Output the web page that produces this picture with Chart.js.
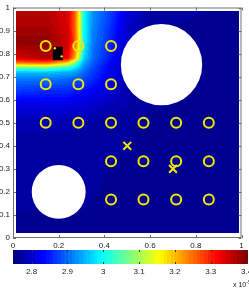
<!DOCTYPE html>
<html>
<head>
<meta charset="utf-8">
<script src="https://cdn.jsdelivr.net/npm/chart.js@4.4.1/dist/chart.umd.min.js"></script>
<style>
  body { margin: 0; background: #fff; width: 249px; height: 292px; position: relative; overflow: hidden; }
  canvas { position: absolute; left: 0; }
  #main { top: 0; }
  #cbar { top: 250px; }
  #expo { position: absolute; left: 233px; top: 281px; font: 7px 'Liberation Sans', Arial, sans-serif; color: #222; white-space: nowrap; line-height: 8px; }
  #expo sup { font-size: 5px; vertical-align: 3px; line-height: 0; }
</style>
</head>
<body>
<canvas id="main" width="249" height="250"></canvas>
<canvas id="cbar" width="249" height="30"></canvas>
<div id="expo">x 10<sup>-5</sup></div>
<script>
// Axes
const xTicks = [0, 0.2, 0.4, 0.6, 0.8, 1];
const yTicks = [0, 0.1, 0.2, 0.3, 0.4, 0.5, 0.6, 0.7, 0.8, 0.9, 1];

// Colour scale (values x 1e-5)
const colorMin = 2.748;
const colorMax = 3.404;
const colorTicks = [2.8, 2.9, 3, 3.1, 3.2, 3.3, 3.4];

// Sensor rings
const sensorX = [0.143, 0.286, 0.429, 0.143, 0.286, 0.429,
    0.143, 0.286, 0.429, 0.571, 0.714, 0.857,
    0.429, 0.571, 0.714, 0.857, 0.429, 0.571, 0.714, 0.857];
const sensorY = [0.833, 0.833, 0.833, 0.667, 0.667, 0.667,
    0.5, 0.5, 0.5, 0.5, 0.5, 0.5,
    0.333, 0.333, 0.333, 0.333, 0.167, 0.167, 0.167, 0.167];

// Estimates (x marks)
const crossX = [0.5, 0.7];
const crossY = [0.4, 0.3];

// Source blob
const sourceX = [0.196, 0.196];
const sourceY = [0.808, 0.793];
const spotX = [0.183, 0.213];
const spotY = [0.823, 0.788];

// Obstacles
const holeX = [0.65, 0.2];
const holeY = [0.752, 0.2];
const holeR = [0.178, 0.118];

// Field samples, rows go from y = 1 down to y = 0
const fieldX = [0, 0.15, 0.24, 0.27, 0.29, 0.31, 0.35, 0.42, 0.5, 0.6, 1];
const fieldY = [1, 0.93, 0.85, 0.78, 0.76, 0.74, 0.72, 0.69, 0.64, 0.58, 0.5, 0];
const fieldRows = [
    [3.36, 3.36, 3.34, 3.27, 3.16, 3.00, 2.93, 2.88, 2.82, 2.775, 2.765],
    [3.37, 3.37, 3.34, 3.26, 3.15, 3.00, 2.92, 2.87, 2.80, 2.77, 2.765],
    [3.39, 3.39, 3.35, 3.27, 3.16, 3.00, 2.91, 2.86, 2.80, 2.77, 2.765],
    [3.34, 3.37, 3.32, 3.22, 3.10, 2.97, 2.90, 2.85, 2.79, 2.77, 2.765],
    [3.25, 3.26, 3.18, 3.08, 3.00, 2.94, 2.89, 2.84, 2.79, 2.77, 2.765],
    [3.07, 3.08, 3.03, 2.99, 2.96, 2.92, 2.88, 2.83, 2.79, 2.77, 2.765],
    [2.96, 2.96, 2.95, 2.94, 2.92, 2.90, 2.87, 2.83, 2.79, 2.77, 2.765],
    [2.91, 2.91, 2.90, 2.89, 2.89, 2.88, 2.86, 2.82, 2.78, 2.77, 2.765],
    [2.87, 2.86, 2.86, 2.85, 2.85, 2.84, 2.83, 2.81, 2.78, 2.77, 2.765],
    [2.82, 2.82, 2.82, 2.81, 2.81, 2.81, 2.80, 2.79, 2.78, 2.77, 2.765],
    [2.78, 2.78, 2.78, 2.78, 2.78, 2.78, 2.775, 2.77, 2.77, 2.765, 2.765],
    [2.765, 2.765, 2.765, 2.765, 2.765, 2.765, 2.765, 2.765, 2.765, 2.765, 2.765]
];

const yellow = '#f5e800';

Chart.defaults.font.family = "'Liberation Sans', Arial, sans-serif";
Chart.defaults.font.size = 8;
Chart.defaults.color = '#222';

const fmtTick = v => String(Math.round(v * 10) / 10);
const pts = (xs, ys) => xs.map((v, i) => ({ x: v, y: ys[i] }));

// Colour map

/**
 * MATLAB style jet colour for t in [0, 1]
 */
function jet(t) {
    const c = k => Math.round(255 * Math.min(1, Math.max(0, 1.5 - Math.abs(4 * t - k))));
    return [c(3), c(2), c(1)];
}

function jetLevel(v) {
    const t = (v - colorMin) / (colorMax - colorMin);
    const idx = Math.min(63, Math.max(0, Math.floor(t * 64)));
    return jet(idx / 63);
}

function findCell(nodes, v) {
    for (let i = 0; i < nodes.length - 1; i++) {
        const a = nodes[i], b = nodes[i + 1];
        if ((v - a) * (v - b) <= 0) return [i, (v - a) / (b - a)];
    }
    return [nodes.length - 2, 1];
}

function sampleField(xv, yv) {
    const [i, fx] = findCell(fieldX, Math.min(1, Math.max(0, xv)));
    const [j, fy] = findCell(fieldY, Math.min(1, Math.max(0, yv)));
    const r0 = fieldRows[j], r1 = fieldRows[j + 1];
    const top = r0[i] + (r0[i + 1] - r0[i]) * fx;
    const bot = r1[i] + (r1[i + 1] - r1[i]) * fx;
    return top + (bot - top) * fy;
}

// Plugins

const fieldPlugin = {
    id: 'field',
    beforeDatasetsDraw(chart) {
        const { ctx, scales: { x, y } } = chart;
        const left = Math.round(x.getPixelForValue(0.013));
        const right = Math.round(x.getPixelForValue(0.987));
        const top = Math.round(y.getPixelForValue(0.985));
        const bottom = Math.round(y.getPixelForValue(0.02));
        const w = right - left, h = bottom - top;
        const img = ctx.createImageData(w, h);
        for (let j = 0; j < h; j++) {
            const yv = y.getValueForPixel(top + j + 0.5);
            for (let i = 0; i < w; i++) {
                const xv = x.getValueForPixel(left + i + 0.5);
                const [r, g, b] = jetLevel(sampleField(xv, yv));
                const k = (j * w + i) * 4;
                img.data[k] = r;
                img.data[k + 1] = g;
                img.data[k + 2] = b;
                img.data[k + 3] = 255;
            }
        }
        ctx.putImageData(img, left, top);

        ctx.save();
        ctx.fillStyle = '#fff';
        holeX.forEach((hx, n) => {
            const px = x.getPixelForValue(hx);
            const py = y.getPixelForValue(holeY[n]);
            const pr = x.getPixelForValue(holeR[n]) - x.getPixelForValue(0);
            ctx.beginPath();
            ctx.arc(px, py, pr, 0, Math.PI * 2);
            ctx.fill();
        });
        ctx.restore();
    }
};

const framePlugin = {
    id: 'frame',
    afterDatasetsDraw(chart) {
        const { ctx, chartArea: a, scales: { x, y } } = chart;
        ctx.save();
        ctx.strokeStyle = '#707070';
        ctx.lineWidth = 1;
        ctx.strokeRect(a.left + 0.5, a.top + 0.5, a.right - a.left - 1, a.bottom - a.top - 1);
        ctx.beginPath();
        xTicks.forEach(v => {
            const p = Math.round(x.getPixelForValue(v)) + 0.5;
            ctx.moveTo(p, a.top);
            ctx.lineTo(p, a.top + 3);
            ctx.moveTo(p, a.bottom);
            ctx.lineTo(p, a.bottom - 3);
        });
        yTicks.forEach(v => {
            const p = Math.round(y.getPixelForValue(v)) + 0.5;
            ctx.moveTo(a.left, p);
            ctx.lineTo(a.left + 3, p);
            ctx.moveTo(a.right, p);
            ctx.lineTo(a.right - 3, p);
        });
        ctx.stroke();
        ctx.restore();
    }
};

const cbarTicksPlugin = {
    id: 'cbarTicks',
    afterDatasetsDraw(chart) {
        const { ctx, chartArea: a, scales: { x } } = chart;
        ctx.save();
        ctx.strokeStyle = '#333';
        ctx.lineWidth = 1;
        ctx.beginPath();
        colorTicks.forEach(v => {
            const p = Math.round(x.getPixelForValue(v)) + 0.5;
            ctx.moveTo(p, a.top);
            ctx.lineTo(p, a.top + 2);
            ctx.moveTo(p, a.bottom);
            ctx.lineTo(p, a.bottom - 2);
        });
        ctx.stroke();
        ctx.restore();
    }
};

// Main plot

new Chart(document.getElementById('main'), {
    type: 'scatter',
    data: {
        datasets: [
            {
                data: pts(spotX, spotY),
                pointStyle: 'circle',
                pointRadius: 1.2,
                pointBackgroundColor: yellow,
                pointBorderWidth: 0
            },
            {
                data: pts(sourceX, sourceY),
                pointStyle: 'rect',
                pointRadius: 7,
                pointBackgroundColor: '#000',
                pointBorderColor: '#000',
                pointBorderWidth: 0
            },
            {
                data: pts(sensorX, sensorY),
                pointStyle: 'circle',
                pointRadius: 5,
                pointBorderWidth: 2,
                pointBorderColor: yellow,
                pointBackgroundColor: 'rgba(0,0,0,0)'
            },
            {
                data: pts(crossX, crossY),
                pointStyle: 'crossRot',
                pointRadius: 5.5,
                pointBorderWidth: 2,
                pointBorderColor: yellow
            }
        ]
    },
    options: {
        responsive: false,
        animation: false,
        events: [],
        layout: { padding: { top: 3, right: 1, left: 0, bottom: 0 } },
        plugins: { legend: { display: false }, tooltip: { enabled: false } },
        scales: {
            x: {
                type: 'linear',
                min: 0,
                max: 1,
                grid: { display: false, drawTicks: false },
                border: { display: false },
                ticks: { padding: 3, maxRotation: 0, autoSkip: false, callback: fmtTick },
                afterBuildTicks: s => { s.ticks = xTicks.map(v => ({ value: v })); },
                afterFit: s => { s.height = 12; s.paddingLeft = 0; s.paddingRight = 0; }
            },
            y: {
                type: 'linear',
                min: 0,
                max: 1,
                grid: { display: false, drawTicks: false },
                border: { display: false },
                ticks: { padding: 3, autoSkip: false, callback: fmtTick },
                afterBuildTicks: s => { s.ticks = yTicks.map(v => ({ value: v })); },
                afterFit: s => { s.width = 13; s.paddingTop = 0; s.paddingBottom = 0; }
            }
        }
    },
    plugins: [fieldPlugin, framePlugin]
});

// Colour bar

new Chart(document.getElementById('cbar'), {
    type: 'bar',
    data: {
        labels: [''],
        datasets: [{
            data: [[colorMin, colorMax]],
            borderWidth: 0,
            barPercentage: 1,
            categoryPercentage: 1,
            backgroundColor: c => {
                const a = c.chart.chartArea;
                if (!a) return null;
                const g = c.chart.ctx.createLinearGradient(a.left, 0, a.right, 0);
                for (let i = 0; i < 64; i++) {
                    const [r, gg, b] = jet(i / 63);
                    const col = `rgb(${r},${gg},${b})`;
                    g.addColorStop(i / 64, col);
                    g.addColorStop((i + 1) / 64, col);
                }
                return g;
            }
        }]
    },
    options: {
        indexAxis: 'y',
        responsive: false,
        animation: false,
        events: [],
        layout: { padding: { left: 13, right: 1, top: 0, bottom: 0 } },
        plugins: { legend: { display: false }, tooltip: { enabled: false } },
        scales: {
            x: {
                type: 'linear',
                min: colorMin,
                max: colorMax,
                grid: { display: false, drawTicks: false },
                border: { display: false },
                ticks: { padding: 3, maxRotation: 0, autoSkip: false, callback: fmtTick },
                afterBuildTicks: s => { s.ticks = colorTicks.map(v => ({ value: v })); },
                afterFit: s => { s.height = 16; s.paddingLeft = 0; s.paddingRight = 0; }
            },
            y: { display: false }
        }
    },
    plugins: [cbarTicksPlugin]
});
</script>
</body>
</html>
